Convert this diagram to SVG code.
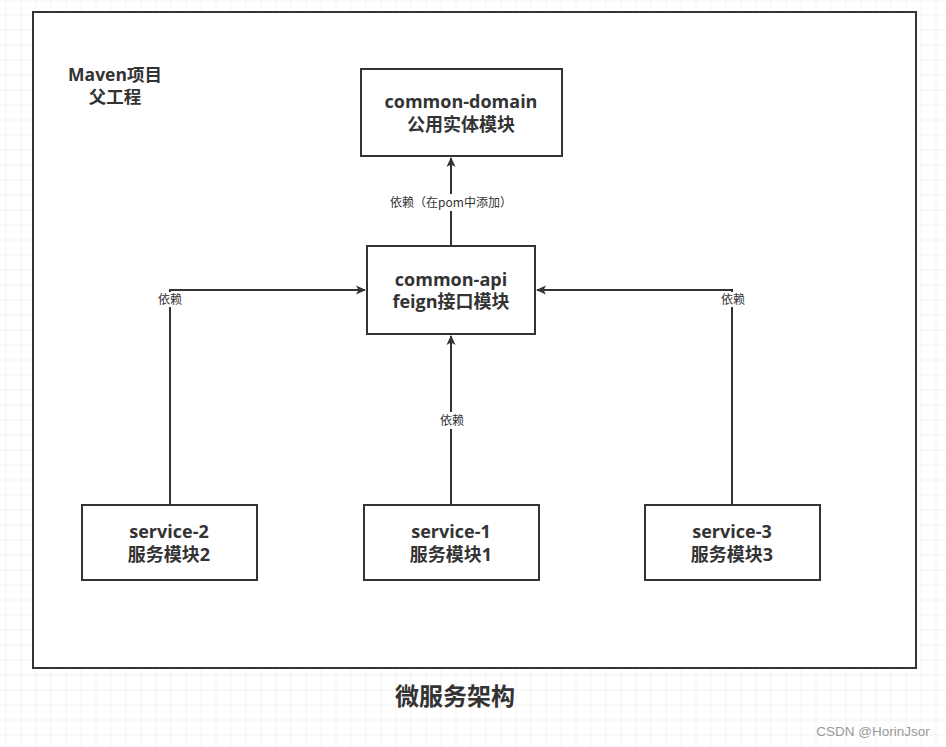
<svg xmlns="http://www.w3.org/2000/svg" width="946" height="747" viewBox="0 0 946 747">
<defs>
<pattern id="grid" x="5.5" y="14.5" width="15" height="15" patternUnits="userSpaceOnUse">
<path d="M0 0H15M0 0V15" fill="none" stroke="#e6e6e6" stroke-width="1"/>
</pattern>
<marker id="arr" markerWidth="10" markerHeight="10" refX="9" refY="5" orient="auto" markerUnits="userSpaceOnUse">
<path d="M0 0.5L10 5L0 9.5L2.5 5Z" fill="#333"/>
</marker>
<style>
.box{fill:#fff;stroke:#333;stroke-width:2}
.nt{font-family:"Open Sans","Noto Sans CJK SC",sans-serif;font-weight:bold;font-size:18px;fill:#333;text-anchor:middle}
.lbl{font-family:"Noto Sans CJK SC",sans-serif;font-size:12px;fill:#333;text-anchor:middle}
.ln{fill:none;stroke:#333;stroke-width:2}
.lb{fill:#fff}
</style>
</defs>
<rect width="946" height="747" fill="#fff"/>
<rect width="946" height="747" fill="url(#grid)"/>
<g id="frame">
<rect x="33" y="12" width="883" height="656" class="box"/>
<text x="115" y="81" class="nt" style="font-size:17.5px">Maven项目</text>
<text x="115" y="103" class="nt" style="font-size:17.5px">父工程</text>
</g>
<g id="connectors">
<path class="ln" d="M451 505V336" marker-end="url(#arr)"/>
<path class="ln" d="M451 246V158" marker-end="url(#arr)"/>
<path class="ln" d="M170 505V290H365" marker-end="url(#arr)"/>
<path class="ln" d="M732 505V290H537" marker-end="url(#arr)"/>
<rect x="438" y="412" width="28" height="17" class="lb"/>
<text x="452" y="425" class="lbl">依赖</text>
<rect x="385" y="194" width="132" height="17" class="lb"/>
<text x="451" y="207" class="lbl">依赖（在pom中添加）</text>
<rect x="156" y="292" width="28" height="15" class="lb"/>
<text x="170" y="304" class="lbl">依赖</text>
<rect x="719" y="292" width="28" height="15" class="lb"/>
<text x="733" y="304" class="lbl">依赖</text>
</g>
<g id="common-domain">
<rect x="361" y="69" width="201" height="87" class="box"/>
<text x="461" y="108" class="nt">common-domain</text>
<text x="461" y="131" class="nt">公用实体模块</text>
</g>
<g id="common-api">
<rect x="367" y="246" width="168" height="88" class="box"/>
<text x="451" y="286" class="nt">common-api</text>
<text x="451" y="308" class="nt">feign接口模块</text>
</g>
<g id="service-2">
<rect x="82" y="505" width="175" height="75" class="box"/>
<text x="169" y="538" class="nt">service-2</text>
<text x="169" y="561" class="nt">服务模块2</text>
</g>
<g id="service-1">
<rect x="364" y="505" width="175" height="75" class="box"/>
<text x="451" y="538" class="nt">service-1</text>
<text x="451" y="561" class="nt">服务模块1</text>
</g>
<g id="service-3">
<rect x="645" y="505" width="175" height="75" class="box"/>
<text x="732" y="538" class="nt">service-3</text>
<text x="732" y="561" class="nt">服务模块3</text>
</g>
<text x="455" y="705" class="nt" style="font-size:24px">微服务架构</text>
<text x="873" y="736" style="font-family:'Liberation Sans',Arial,sans-serif;font-size:13.5px;fill:#999;text-anchor:middle">CSDN @HorinJsor</text>
</svg>
